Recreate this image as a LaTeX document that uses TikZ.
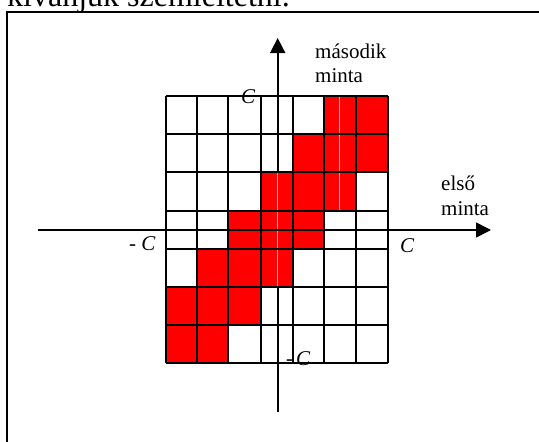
\documentclass[tikz,border=0pt]{standalone}
\usepackage{fontspec}
\setmainfont{Liberation Serif}
\usetikzlibrary{arrows.meta}
\begin{document}
\begin{tikzpicture}[x=1pt,y=-1pt,
  gridline/.style={line width=1.8pt,black},
  axisline/.style={line width=1.6pt,black},
  cellfill/.style={fill=red,draw=none},
  faint/.style={line width=0.7pt,red!35!white},
  lbl/.style={font=\fontsize{21}{24}\selectfont,inner sep=0pt,anchor=base west},
  arrowtip/.style={-{Triangle[length=15pt,width=15pt]}}]
\useasboundingbox (0,0) rectangle (539,442);
\clip (0,0) rectangle (539,442);
\fill[white] (0,0) rectangle (539,442);
% cut-off text above the frame
\node[inner sep=0pt,anchor=base west,font=\fontsize{32}{36}\selectfont] (toptext) at (7,6.5) {kívánjuk szemléltetni.};
% frame
\draw[line width=2pt] (545,12) -- (7.3,12) -- (7.3,450);
% axes
\coordinate (xs) at (38.3,230);
\coordinate (xe) at (491,230);
\coordinate (ys) at (277.7,412);
\coordinate (ye) at (277.7,38);
\draw[axisline,arrowtip] (xs) -- (xe);
\draw[axisline,arrowtip] (ys) -- (ye);
% red cells
\fill[cellfill] (324,95.7) rectangle (387.7,134);
\fill[cellfill] (292.7,134) rectangle (387.7,172);
\fill[cellfill] (260.7,172) rectangle (355.7,211);
\fill[cellfill] (228.3,211) rectangle (324,249);
\fill[cellfill] (196.7,249) rectangle (292.7,287.3);
\fill[cellfill] (166,287.3) rectangle (260.7,325);
\fill[cellfill] (166,325) rectangle (228.3,362.7);
% faint seams
\draw[faint] (339,95.7) -- (339,211);
\draw[faint] (277.7,172) -- (277.7,287.3);
\draw[faint] (197.7,287.3) -- (197.7,362.7);
% grid
\foreach \gx in {166,196.7,228.3,260.7,292.7,324,355.7,387.7}
  \draw[gridline] (\gx,95.7) -- (\gx,362.7);
\foreach \gy in {95.7,134,172,211,230,249,287.3,325,362.7}
  \draw[gridline] (166,\gy) -- (387.7,\gy);
% labels
\node[lbl] (masodik) at (315,58) {második};
\node[lbl] (minta2) at (315,82) {minta};
\node[lbl] (elso) at (441,190) {első};
\node[lbl] (minta1) at (441,215) {minta};
\node[lbl] (ctop) at (241,103) {\textit{C}};
\node[lbl] (cright) at (400,252) {\textit{C}};
\node[lbl] (cleft) at (129,250) {- \textit{C}};
\node[lbl] (cbottom) at (286,365) {-\hspace{3pt}\textit{C}};
\end{tikzpicture}
\end{document}
